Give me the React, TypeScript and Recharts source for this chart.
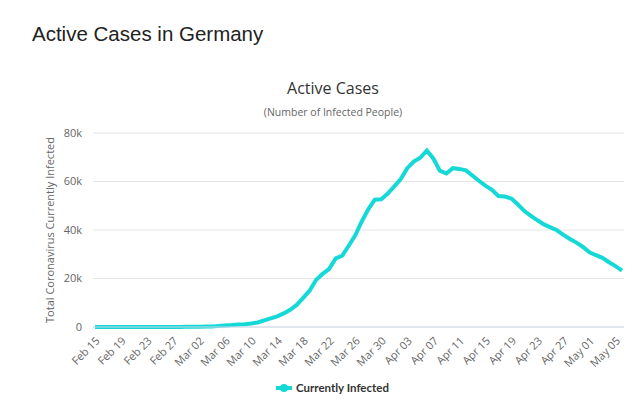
import React from "react";
import { LineChart, Line, XAxis, YAxis, CartesianGrid } from "recharts";

const dates = [
  "Feb 15", "Feb 16", "Feb 17", "Feb 18", "Feb 19", "Feb 20", "Feb 21", "Feb 22", "Feb 23", "Feb 24",
  "Feb 25", "Feb 26", "Feb 27", "Feb 28", "Feb 29", "Mar 01", "Mar 02", "Mar 03", "Mar 04", "Mar 05",
  "Mar 06", "Mar 07", "Mar 08", "Mar 09", "Mar 10", "Mar 11", "Mar 12", "Mar 13", "Mar 14", "Mar 15",
  "Mar 16", "Mar 17", "Mar 18", "Mar 19", "Mar 20", "Mar 21", "Mar 22", "Mar 23", "Mar 24", "Mar 25",
  "Mar 26", "Mar 27", "Mar 28", "Mar 29", "Mar 30", "Mar 31", "Apr 01", "Apr 02", "Apr 03", "Apr 04",
  "Apr 05", "Apr 06", "Apr 07", "Apr 08", "Apr 09", "Apr 10", "Apr 11", "Apr 12", "Apr 13", "Apr 14",
  "Apr 15", "Apr 16", "Apr 17", "Apr 18", "Apr 19", "Apr 20", "Apr 21", "Apr 22", "Apr 23", "Apr 24",
  "Apr 25", "Apr 26", "Apr 27", "Apr 28", "Apr 29", "Apr 30", "May 01", "May 02", "May 03", "May 04",
  "May 05", "May 06",
];

const infected = [
  8, 8, 8, 8, 8, 8, 2, 2, 2, 2,
  2, 3, 10, 30, 63, 113, 143, 180, 246, 466,
  654, 781, 1000, 1150, 1430, 1850, 2700, 3550, 4400, 5600,
  7100, 9100, 12000, 15000, 19500, 21900, 24000, 28300, 29400, 33500,
  37800, 43500, 48500, 52500, 52700, 55000, 58000, 61000, 65500, 68200,
  69800, 72800, 69500, 64500, 63300, 65500, 65200, 64600, 62500, 60300,
  58300, 56600, 54000, 53800, 53000, 50500, 47800, 45800, 44000, 42300,
  41100, 39900, 38000, 36300, 34800, 33000, 30800, 29600, 28500, 26700,
  25100, 23200,
];

const yTicks = [0, 20000, 40000, 60000, 80000];

const LINE = "#14d9d6";
const SANS = "'Open Sans', 'DejaVu Sans', sans-serif";

export default function App() {
  const data = dates.map((d, i) => ({ date: d, infected: infected[i] }));

  return (
    <div
      style={{
        position: "absolute",
        left: 0,
        top: 0,
        width: 640,
        height: 409,
        background: "#fff",
        overflow: "hidden",
      }}
    >
      <div
        style={{
          position: "absolute",
          left: 32,
          top: 22,
          fontFamily: "'Liberation Sans', Arial, sans-serif",
          fontSize: 20.5,
          color: "#222",
          whiteSpace: "nowrap",
        }}
      >
        Active Cases in Germany
      </div>
      <div
        style={{
          position: "absolute",
          left: 233,
          width: 200,
          top: 77,
          textAlign: "center",
          fontFamily: SANS,
          fontSize: 16,
          color: "#333",
        }}
      >
        Active Cases
      </div>
      <div
        style={{
          position: "absolute",
          left: 233,
          width: 200,
          top: 105,
          textAlign: "center",
          fontFamily: SANS,
          fontSize: 10.5,
          color: "#666",
        }}
      >
        (Number of Infected People)
      </div>

      <LineChart
        width={640}
        height={409}
        data={data}
        margin={{ top: 133, right: 16, left: 0, bottom: 22 }}
      >
        <CartesianGrid vertical={false} stroke="#e6e6e6" />
        <XAxis
          dataKey="date"
          interval={3}
          height={60}
          padding={{ left: 2, right: 2 }}
          tickLine={false}
          axisLine={{ stroke: "#ccd6eb" }}
          tick={{ angle: -45, textAnchor: "end", fontSize: 11, fill: "#666", fontFamily: SANS }}
          tickMargin={3}
        />
        <YAxis
          width={93}
          domain={[0, 80000]}
          ticks={yTicks}
          tickLine={false}
          axisLine={false}
          tickMargin={5}
          tick={{ fontSize: 11, fill: "#666", fontFamily: SANS }}
          tickFormatter={(v: number) => (v === 0 ? "0" : `${v / 1000}k`)}
          label={{
            value: "Total Coronavirus Currently Infected",
            angle: -90,
            position: "center",
            dx: 4,
            style: { fontSize: 11, fill: "#666", fontFamily: SANS },
          }}
        />
        <Line
          type="linear"
          dataKey="infected"
          stroke={LINE}
          strokeWidth={4}
          dot={false}
          activeDot={false}
          isAnimationActive={false}
        />
      </LineChart>

      <div
        style={{
          position: "absolute",
          left: 276,
          top: 381,
          display: "flex",
          alignItems: "center",
          fontFamily: "Lato, 'Open Sans', sans-serif",
          fontWeight: 700,
          fontSize: 11.5,
          color: "#333",
        }}
      >
        <svg width={16} height={12} style={{ marginRight: 4 }}>
          <line x1={0} y1={6} x2={16} y2={6} stroke={LINE} strokeWidth={4} />
          <circle cx={8} cy={6} r={4} fill={LINE} />
        </svg>
        Currently Infected
      </div>
    </div>
  );
}
